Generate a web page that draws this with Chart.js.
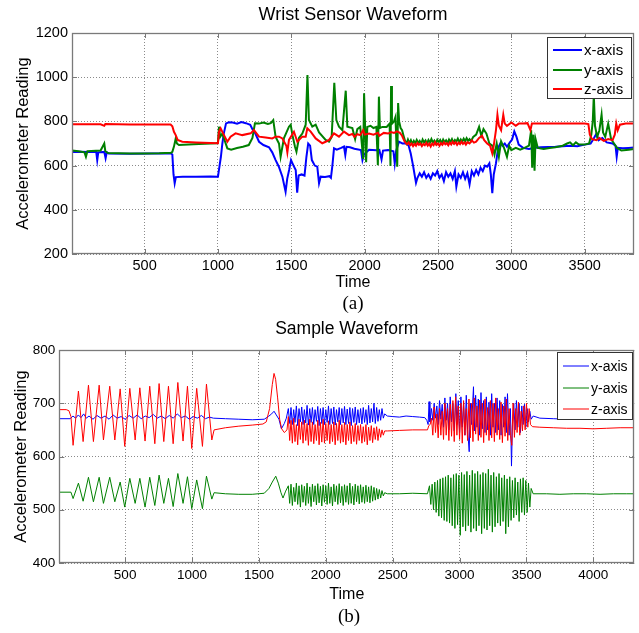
<!DOCTYPE html>
<html>
<head>
<meta charset="utf-8">
<script src="https://cdn.jsdelivr.net/npm/chart.js@4.4.1/dist/chart.umd.min.js"></script>
<style>
  html, body { margin: 0; padding: 0; background: #fff; width: 639px; height: 633px; overflow: hidden; }
  #wrap { position: relative; width: 639px; height: 633px; }
  canvas { position: absolute; left: 0; }
  .cap { position: absolute; font-family: 'Liberation Serif', 'Times New Roman', serif; font-size: 19px; color: #000; transform: translate(-50%, -50%); white-space: nowrap; }
</style>
</head>
<body>
<div id="wrap">
  <canvas id="cA" width="639" height="292" style="top:0px"></canvas>
  <canvas id="cB" width="639" height="294" style="top:310px"></canvas>
  <div class="cap" style="left:353px; top:303px;">(a)</div>
  <div class="cap" style="left:349px; top:616px;">(b)</div>
</div>
<script>
// ---------------- DATA: (a) Wrist Sensor Waveform ----------------
const seriesLabels = ['x-axis', 'y-axis', 'z-axis'];
const seriesColors = ['#0000ff', '#008000', '#ff0000'];

const wristTicksX = [500, 1000, 1500, 2000, 2500, 3000, 3500];
const wristTicksY = [200, 400, 600, 800, 1000, 1200];

// [time, reading]
const wristX = [
 [5,662],[60,663],[120,661],[170,663],[177,625],[184,660],[225,662],[234,633],[242,660],[255,655],[400,654],[550,655],[680,655],
 [689,650],[697,560],[705,520],[713,548],[760,550],[850,549],[950,551],[1000,550],[1010,595],[1020,640],[1030,700],[1040,746],
 [1055,791],[1075,796],[1100,795],[1130,790],[1160,797],[1190,792],[1220,785],[1235,765],[1250,752],[1280,708],[1310,693],
 [1348,683],[1370,660],[1393,625],[1415,595],[1439,550],[1461,482],[1472,540],[1485,580],[1498,625],[1515,600],[1530,580],
 [1540,478],[1550,555],[1570,560],[1590,555],[1603,640],[1615,700],[1628,690],[1640,625],[1660,600],[1677,595],[1689,520],
 [1700,550],[1730,548],[1760,552],[1770,545],[1780,600],[1791,678],[1810,672],[1840,680],[1859,686],[1868,648],[1876,685],
 [1900,683],[1930,676],[1975,670],[1985,625],[1995,650],[2030,672],[2080,670],[2100,671],[2115,628],[2125,668],[2160,670],
 [2196,665],[2205,610],[2215,668],[2234,708],[2257,700],[2280,701],[2300,690],[2314,655],[2330,600],[2340,560],[2350,522],
 [2360,545],[2375,565],[2390,550],[2405,570],[2420,545],[2435,560],[2450,540],[2465,565],[2480,555],[2495,575],[2510,545],
 [2525,560],[2540,530],[2555,570],[2570,550],[2585,565],[2600,540],[2615,575],[2625,505],[2640,560],[2655,545],[2670,570],
 [2685,540],[2700,565],[2715,515],[2730,575],[2745,555],[2760,580],[2775,560],[2790,590],[2805,575],[2820,600],[2835,595],
 [2850,610],[2860,560],[2870,475],[2880,560],[2895,610],[2910,680],[2925,700],[2940,690],[2955,700],[2970,685],[2990,705],
 [3005,718],[3020,755],[3035,730],[3050,695],[3080,680],[3120,675],[3150,680],[3200,683],[3300,685],[3400,690],[3450,688],
 [3500,695],[3540,700],[3560,720],[3580,745],[3595,715],[3620,725],[3650,705],[3690,700],[3710,690],[3718,640],[3726,680],
 [3760,678],[3800,680],[3836,682]
];
const wristY = [
 [5,668],[50,665],[90,660],[100,640],[110,665],[200,668],[225,700],[232,665],[250,657],[400,655],[500,655],[600,656],[680,658],
 [689,662],[700,686],[712,723],[720,700],[734,693],[800,695],[870,698],[990,701],[1000,705],[1007,776],[1015,730],[1030,745],
 [1045,715],[1064,678],[1090,672],[1130,680],[1170,685],[1210,693],[1235,725],[1252,791],[1280,790],[1310,795],[1340,788],
 [1360,792],[1377,806],[1393,730],[1416,700],[1427,640],[1450,725],[1484,776],[1496,785],[1507,740],[1525,685],[1535,663],
 [1552,725],[1575,745],[1598,785],[1610,1010],[1620,806],[1643,776],[1666,785],[1689,750],[1734,716],[1757,708],[1775,730],
 [1793,975],[1807,806],[1825,776],[1848,760],[1871,939],[1882,776],[1916,770],[1935,720],[1950,765],[1970,775],[1990,630],
 [1996,927],[2003,780],[2010,615],[2018,775],[2040,780],[2060,770],[2080,775],[2090,602],[2097,912],[2104,770],[2120,775],
 [2150,775],[2170,790],[2176,598],[2180,960],[2186,790],[2200,800],[2210,820],[2222,595],[2228,883],[2235,800],[2245,770],
 [2255,760],[2265,735],[2275,712],[2285,700],[2295,718],[2305,702],[2315,715],[2325,698],[2335,712],[2345,700],[2355,716],
 [2365,703],[2375,712],[2385,698],[2395,718],[2405,705],[2415,714],[2425,700],[2435,716],[2445,704],[2455,720],[2465,705],
 [2475,713],[2485,700],[2495,717],[2505,706],[2515,716],[2525,702],[2535,718],[2545,706],[2555,714],[2565,701],[2575,718],
 [2585,707],[2595,720],[2605,704],[2615,716],[2625,708],[2635,722],[2645,706],[2655,718],[2665,708],[2675,722],[2685,710],
 [2695,724],[2705,712],[2715,720],[2725,710],[2740,730],[2760,740],[2780,775],[2795,735],[2810,765],[2830,745],
 [2850,700],[2870,690],[2885,650],[2900,700],[2915,640],[2930,710],[2950,680],[2970,640],[2985,690],[3000,670],[3030,680],
 [3060,672],[3090,680],[3120,690],[3135,760],[3142,590],[3150,740],[3158,577],[3165,720],[3180,680],[3220,675],[3260,680],
 [3300,683],[3350,690],[3380,700],[3400,705],[3420,692],[3440,705],[3460,695],[3500,695],[3530,700],[3545,740],[3555,800],
 [3562,919],[3570,780],[3585,730],[3600,760],[3615,830],[3625,750],[3640,730],[3660,790],[3680,720],[3700,700],[3720,680],
 [3750,668],[3800,672],[3836,675]
];
const wristZ = [
 [5,787],[200,787],[225,780],[232,788],[400,786],[600,786],[677,786],[689,778],[700,753],[712,738],[725,716],[757,708],
 [850,705],[950,702],[1000,701],[1007,753],[1018,769],[1041,738],[1064,708],[1086,731],[1120,746],[1166,738],[1223,746],
 [1245,761],[1280,731],[1325,727],[1370,723],[1393,731],[1416,731],[1439,723],[1466,690],[1473,660],[1484,716],[1518,753],
 [1541,708],[1575,731],[1598,731],[1609,769],[1632,754],[1666,723],[1711,701],[1734,708],[1757,716],[1791,746],[1825,731],
 [1859,754],[1893,738],[1916,743],[1930,730],[1950,742],[1970,738],[1990,760],[2000,740],[2030,745],[2060,740],[2090,748],
 [2100,735],[2130,748],[2160,745],[2180,752],[2200,748],[2220,755],[2240,748],[2255,735],
 [2270,712],[2280,702],[2290,696],[2300,705],[2310,692],[2320,700],[2330,688],[2340,698],[2350,690],[2360,702],[2370,694],
 [2380,700],[2390,688],[2400,698],[2410,692],[2420,703],[2430,690],[2440,699],[2450,686],[2460,700],[2470,692],[2480,706],
 [2490,694],[2500,700],[2510,690],[2520,702],[2530,694],[2540,705],[2550,696],[2560,702],[2570,692],[2580,704],[2590,696],
 [2600,708],[2610,698],[2620,706],[2630,694],[2640,704],[2650,697],[2660,708],[2670,698],[2680,705],[2690,695],[2700,706],
 [2715,700],[2730,714],[2745,704],[2760,708],[2780,725],[2800,735],[2815,715],[2835,700],[2855,690],[2870,655],[2880,690],
 [2895,760],[2905,830],[2915,780],[2930,760],[2945,830],[2955,790],[2970,780],[3000,795],[3030,780],[3050,790],[3080,790],
 [3110,792],[3130,760],[3140,790],[3200,790],[3300,790],[3400,790],[3500,790],[3525,788],[3535,740],[3550,720],[3580,715],
 [3600,725],[3630,712],[3660,720],[3690,715],[3705,740],[3715,790],[3725,760],[3740,785],[3780,790],[3836,790]
];

// ---------------- DATA: (b) Sample Waveform ----------------
const sampleTicksX = [500, 1000, 1500, 2000, 2500, 3000, 3500, 4000];
const sampleTicksY = [400, 500, 600, 700, 800];

const sampleX = [
 [5,671],[90,671],[110,676],[130,672],[150,678],[170,673],[190,680],[210,672],[230,676],[260,670],[290,677],[320,672],
 [350,676],[380,670],[410,678],[440,672],[470,675],[500,670],[530,677],[560,672],[590,678],[620,671],[650,676],[680,673],
 [710,679],[740,672],[770,676],[800,671],[830,677],[860,672],[890,680],[920,673],[950,676],[980,670],[1010,675],[1040,672],
 [1070,677],[1100,671],[1130,674],[1160,672],[1250,671],[1350,670],[1450,669],[1540,670],[1570,675],[1595,680],[1613,685],
 [1630,678],[1650,670],[1668,652],[1690,662],[1705,672],
 [1720,690],[1730,662],[1740,692],[1750,660],[1760,688],[1770,664],[1780,695],[1790,658],[1800,690],[1810,665],[1820,693],
 [1830,660],[1840,688],[1850,663],[1860,696],[1870,659],[1880,690],[1890,664],[1900,692],[1910,660],[1920,688],[1930,666],
 [1940,694],[1950,658],[1960,690],[1970,662],[1980,692],[1990,660],[2000,688],[2010,664],[2020,695],[2030,660],[2040,690],
 [2050,662],[2060,693],[2070,659],[2080,688],[2090,665],[2100,692],[2110,660],[2120,690],[2130,663],[2140,694],[2150,660],
 [2160,689],[2170,662],[2180,692],[2190,658],[2200,690],[2210,664],[2220,693],[2230,660],[2240,688],[2250,663],[2260,690],
 [2270,661],[2280,692],[2290,664],[2300,688],[2310,660],[2320,696],[2330,663],[2340,690],[2350,665],[2360,700],[2370,662],
 [2380,692],[2390,666],[2400,688],[2410,668],[2420,690],[2430,672],[2440,680],[2460,676],[2500,675],[2550,674],[2600,676],
 [2650,675],[2700,674],[2740,673],[2755,668],[2765,660],[2772,703],[2778,665],
 [2790,690],[2800,668],[2810,700],[2820,672],[2830,695],[2840,660],[2850,705],[2860,670],[2870,698],[2880,655],[2890,710],
 [2900,668],[2910,700],[2920,650],[2930,712],[2940,665],[2950,700],[2960,648],[2972,718],[2980,660],[2990,705],[3000,645],
 [3010,712],[3020,655],[3030,700],[3040,640],[3050,715],[3060,650],[3072,609],[3080,700],[3090,660],[3104,731],[3110,648],
 [3120,715],[3130,655],[3140,708],[3150,640],[3160,720],[3170,652],[3180,705],[3190,645],[3200,712],[3210,650],[3220,702],
 [3230,640],[3240,718],[3250,655],[3260,700],[3270,645],[3280,710],[3290,650],[3300,705],[3310,640],[3320,698],[3330,655],
 [3340,712],[3350,645],[3358,718],[3370,640],[3380,690],[3388,582],[3395,660],[3405,700],[3415,650],[3425,705],[3435,655],
 [3445,700],[3455,645],[3465,695],[3475,660],[3485,698],[3495,655],[3505,690],[3515,665],[3525,685],[3535,670],[3550,676],
 [3600,672],[3700,671],[3800,670],[3900,671],[4000,670],[4100,671],[4200,670],[4305,671]
];
const sampleY = [
 [5,533],[95,533],[111,521],[151,550],[186,516],[226,561],[263,515],[306,561],[338,512],[385,561],[423,515],[463,552],
 [497,505],[535,559],[575,512],[610,559],[649,505],[684,561],[722,508],[754,565],[789,512],[824,559],[859,506],[894,568],
 [933,512],[966,562],[998,502],[1035,556],[1078,502],[1108,563],[1148,520],[1165,532],[1250,530],[1350,529],[1450,529],
 [1540,531],[1575,540],[1600,552],[1626,563],[1645,550],[1665,532],[1680,522],[1700,535],
 [1720,545],[1730,512],[1740,548],[1750,508],[1760,542],[1770,515],[1780,550],[1790,510],[1800,545],[1810,505],[1820,547],
 [1830,514],[1840,544],[1850,508],[1860,550],[1870,512],[1880,543],[1890,506],[1900,548],[1910,515],[1920,545],[1930,509],
 [1940,549],[1950,513],[1960,544],[1970,507],[1980,547],[1990,514],[2000,545],[2010,510],[2020,550],[2030,512],[2040,543],
 [2050,507],[2060,548],[2070,515],[2080,545],[2090,510],[2100,549],[2110,513],[2120,544],[2130,508],[2140,547],[2150,514],
 [2160,545],[2170,510],[2180,550],[2190,512],[2200,544],[2210,509],[2220,548],[2230,515],[2240,545],[2250,511],[2260,547],
 [2270,514],[2280,543],[2290,512],[2300,546],[2310,515],[2320,543],[2330,513],[2340,545],[2350,516],[2360,542],[2370,518],
 [2380,540],[2390,520],[2400,538],[2410,522],[2420,536],[2430,526],[2440,532],[2460,530],[2550,530],[2650,531],[2760,530],
 [2775,545],[2785,510],[2795,548],[2805,500],[2815,552],[2825,495],[2835,555],[2845,488],[2855,558],[2865,485],[2875,560],
 [2885,480],[2895,562],[2905,478],[2915,565],[2925,475],[2935,560],[2945,470],[2955,566],[2965,465],[2975,568],[2985,472],
 [2995,565],[3005,452],[3015,570],[3025,468],[3035,566],[3045,460],[3055,572],[3065,470],[3075,565],[3085,458],[3095,574],
 [3105,465],[3115,568],[3125,460],[3135,572],[3145,470],[3155,566],[3165,455],[3175,570],[3185,465],[3195,568],[3205,462],
 [3215,576],[3225,470],[3235,565],[3245,458],[3255,570],[3265,468],[3275,562],[3285,475],[3295,568],[3305,470],[3315,560],
 [3325,478],[3335,565],[3345,455],[3355,558],[3365,468],[3375,562],[3385,480],[3395,555],[3405,485],[3415,560],[3425,490],
 [3435,552],[3445,478],[3455,558],[3465,495],[3475,560],[3485,490],[3495,555],[3505,495],[3515,550],[3525,505],[3535,540],
 [3550,530],[3650,530],[3750,529],[3850,530],[3950,530],[4050,529],[4150,530],[4250,530],[4305,530]
];
const sampleZ = [
 [5,688],[60,688],[80,686],[95,675],[111,621],[151,723],[186,628],[226,734],[263,628],[306,734],[338,631],[385,732],
 [423,631],[463,727],[497,619],[535,728],[575,631],[610,729],[649,629],[684,732],[722,624],[754,737],[789,628],[824,732],
 [859,624],[894,739],[933,629],[966,732],[998,615],[1035,728],[1078,619],[1108,736],[1148,631],[1165,650],[1250,654],
 [1350,657],[1450,659],[1530,661],[1555,665],[1580,690],[1600,735],[1613,756],[1625,745],[1640,710],[1655,670],[1670,652],
 [1690,645],[1710,650],
 [1720,675],[1730,630],[1740,668],[1750,625],[1760,672],[1770,628],[1780,660],[1790,622],[1800,670],[1810,632],[1820,665],
 [1830,625],[1840,668],[1850,630],[1860,662],[1870,621],[1880,670],[1890,628],[1900,665],[1910,624],[1920,660],[1930,630],
 [1940,668],[1950,622],[1960,664],[1970,627],[1980,670],[1990,625],[2000,662],[2010,630],[2020,667],[2030,624],[2040,660],
 [2050,628],[2060,665],[2070,622],[2080,662],[2090,630],[2100,668],[2110,625],[2120,660],[2130,627],[2140,664],[2150,622],
 [2160,660],[2170,630],[2180,665],[2190,624],[2200,658],[2210,628],[2220,662],[2230,623],[2240,658],[2250,630],[2260,660],
 [2270,625],[2280,656],[2290,628],[2300,660],[2310,622],[2320,655],[2330,630],[2340,658],[2350,626],[2360,654],[2370,632],
 [2380,656],[2390,630],[2400,652],[2410,636],[2420,650],[2430,640],[2440,648],[2460,648],[2550,649],[2650,650],[2760,650],
 [2770,658],[2780,660],[2790,672],[2800,640],[2810,693],[2820,645],[2830,680],[2840,635],[2850,690],[2860,640],[2870,685],
 [2880,632],[2890,700],[2900,640],[2910,690],[2920,630],[2930,698],[2940,638],[2950,705],[2960,628],[2970,712],[2980,640],
 [2990,695],[3000,632],[3010,700],[3020,625],[3030,705],[3040,640],[3050,690],[3060,630],[3070,708],[3080,635],[3090,700],
 [3100,628],[3110,710],[3120,642],[3130,695],[3140,630],[3150,706],[3160,636],[3170,700],[3180,626],[3190,708],[3200,640],
 [3210,692],[3220,630],[3230,705],[3240,635],[3250,700],[3260,628],[3270,710],[3280,640],[3290,690],[3300,632],[3310,702],
 [3320,626],[3330,695],[3340,638],[3350,708],[3360,630],[3370,690],[3380,640],[3390,621],[3400,700],[3410,636],[3420,690],
 [3430,645],[3440,702],[3450,640],[3460,685],[3470,648],[3480,695],[3490,650],[3500,700],[3510,655],[3520,690],[3530,660],
 [3545,656],[3600,655],[3700,654],[3800,653],[3900,653],[4000,652],[4100,653],[4200,654],[4305,654]
];

// ---------------- RENDERING ----------------
const FONT = "'Liberation Sans', Arial, Helvetica, sans-serif";
const GRID = '#8a8a8a';
const AXIS = '#7a7a7a';

const matlabBox = {
  id: 'matlabBox',
  afterDraw(chart, args, o) {
    const {ctx, chartArea: a, scales} = chart;
    ctx.save();
    ctx.strokeStyle = AXIS;
    ctx.lineWidth = 1;
    ctx.beginPath();
    const L = o.tickLen;
    scales.x.ticks.forEach(t => {
      const px = Math.round(scales.x.getPixelForValue(t.value)) + 0.5;
      ctx.moveTo(px, a.bottom); ctx.lineTo(px, a.bottom - L);
      ctx.moveTo(px, a.top); ctx.lineTo(px, a.top + L);
    });
    scales.y.ticks.forEach(t => {
      const py = Math.round(scales.y.getPixelForValue(t.value)) + 0.5;
      ctx.moveTo(a.left, py); ctx.lineTo(a.left + L, py);
      ctx.moveTo(a.right, py); ctx.lineTo(a.right - L, py);
    });
    ctx.stroke();
    ctx.lineWidth = 1.3;
    ctx.strokeRect(Math.round(a.left) + 0.5, Math.round(a.top) + 0.5,
                   Math.round(a.right - a.left) - 1, Math.round(a.bottom - a.top) - 1);
    // legend
    const g = o.legend;
    ctx.fillStyle = '#fff';
    ctx.fillRect(g.x, g.y, g.w, g.h);
    ctx.strokeStyle = '#333';
    ctx.lineWidth = 1;
    ctx.strokeRect(g.x + 0.5, g.y + 0.5, g.w, g.h);
    ctx.font = g.fontSize + 'px ' + FONT;
    ctx.textBaseline = 'middle';
    ctx.textAlign = 'left';
    chart.data.datasets.forEach((ds, i) => {
      const y = g.rows[i];
      ctx.strokeStyle = ds.borderColor;
      ctx.lineWidth = g.lineWidth;
      ctx.beginPath();
      ctx.moveTo(g.l0, y); ctx.lineTo(g.l1, y);
      ctx.stroke();
      ctx.fillStyle = '#000';
      ctx.fillText(ds.label, g.tx, y + 1);
    });
    ctx.restore();
  }
};

function mkDatasets(series, width) {
  return series.map((s, i) => ({
    label: seriesLabels[i],
    data: s.map(p => ({x: p[0], y: p[1]})),
    borderColor: seriesColors[i],
    backgroundColor: seriesColors[i],
    borderWidth: width,
    pointRadius: 0,
    tension: 0,
    fill: false,
    order: 2 - i
  }));
}

const plainNum = v => String(v);

function mkOptions(cfg) {
  return {
    responsive: false,
    animation: false,
    events: [],
    layout: {padding: {left: 0, right: cfg.padRight, top: 0, bottom: 0}},
    plugins: {
      legend: {display: false},
      tooltip: {enabled: false},
      title: {
        display: true, text: cfg.title, fullSize: false, color: '#000',
        font: {family: FONT, size: cfg.titleSize, weight: 'normal', lineHeight: 1.2},
        padding: cfg.titlePad
      },
      matlabBox: {tickLen: 5, legend: cfg.legend}
    },
    scales: {
      x: {
        type: 'linear', min: cfg.xMin, max: cfg.xMax,
        afterFit(s) { s.height = cfg.xHeight; },
        afterBuildTicks(s) { s.ticks = cfg.xTicks.map(v => ({value: v})); },
        ticks: {color: '#000', padding: cfg.xTickPad, maxRotation: 0, autoSkip: false, callback: plainNum,
                font: {family: FONT, size: cfg.tickSize, lineHeight: 1.2}},
        grid: {color: GRID, lineWidth: 1, drawTicks: false},
        border: {display: false, dash: [1, 2]},
        title: {display: true, text: 'Time', color: '#000', padding: {top: 0, bottom: 0},
                font: {family: FONT, size: 16, lineHeight: 1.2}}
      },
      y: {
        type: 'linear', min: cfg.yMin, max: cfg.yMax,
        afterFit(s) { s.width = cfg.yWidth; },
        afterBuildTicks(s) { s.ticks = cfg.yTicks.map(v => ({value: v})); },
        ticks: {color: '#000', padding: 4, callback: plainNum, font: {family: FONT, size: cfg.tickSize, lineHeight: 1.2}},
        grid: {color: GRID, lineWidth: 1, drawTicks: false},
        border: {display: false, dash: [1, 2]},
        title: {display: true, text: 'Accelerometer Reading', color: '#000',
                padding: {top: cfg.yTitlePad, bottom: 0},
                font: {family: FONT, size: 16.5, lineHeight: 1.2}}
      }
    }
  };
}

new Chart(document.getElementById('cA'), {
  type: 'line',
  data: {datasets: mkDatasets([wristX, wristY, wristZ], 2)},
  options: mkOptions({
    title: 'Wrist Sensor Waveform', titleSize: 18, titlePad: {top: 4, bottom: 7.4},
    padRight: 5, xMin: 5, xMax: 3836, xTicks: wristTicksX, yMin: 200, yMax: 1200, yTicks: wristTicksY,
    xHeight: 38, xTickPad: 3, yWidth: 72, yTitlePad: 14, tickSize: 14.5,
    legend: {x: 547, y: 37, w: 84, h: 61, l0: 553, l1: 582, tx: 584, rows: [50, 70, 89], fontSize: 15, lineWidth: 2}
  }),
  plugins: [matlabBox]
});

new Chart(document.getElementById('cB'), {
  type: 'line',
  data: {datasets: mkDatasets([sampleX, sampleY, sampleZ], 1)},
  options: mkOptions({
    title: 'Sample Waveform', titleSize: 17.5, titlePad: {top: 8.5, bottom: 10.5},
    padRight: 4.7, xMin: 8, xMax: 4306, xTicks: sampleTicksX, yMin: 400, yMax: 800, yTicks: sampleTicksY,
    xHeight: 41, xTickPad: 4, yWidth: 59.3, yTitlePad: 12, tickSize: 13.5,
    legend: {x: 557, y: 42, w: 75, h: 67, l0: 563, l1: 589, tx: 591, rows: [56, 78, 99], fontSize: 14, lineWidth: 1}
  }),
  plugins: [matlabBox]
});
</script>
</body>
</html>
